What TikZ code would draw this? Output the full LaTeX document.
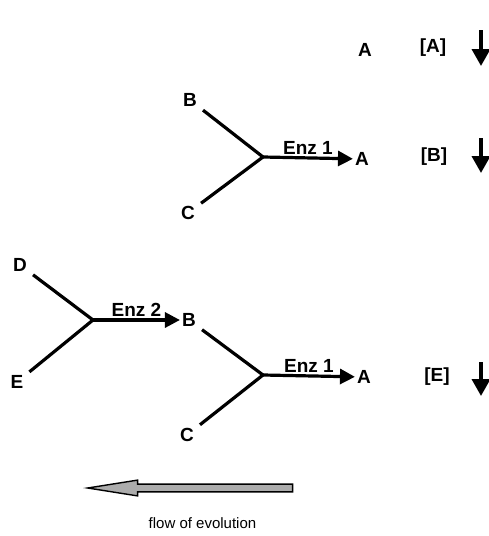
\documentclass[tikz,border=0pt]{standalone}
\usepackage{fontspec}
\setmainfont{Liberation Sans}
\usetikzlibrary{positioning,arrows.meta,shapes.arrows}

\begin{document}
\begin{tikzpicture}[x=1pt, y=-1pt,
    lbl/.style={font=\fontsize{19}{21}\selectfont\bfseries, inner sep=2pt},
    enz/.style={font=\fontsize{19}{21}\selectfont\bfseries, inner sep=1pt},
    arm/.style={line width=3.2pt, shorten <=5pt},
    rxn/.style={line width=3.2pt, -{Triangle[length=15pt,width=15pt]}},
    drop/.style={line width=3.6pt, -{Triangle[length=17pt,width=18pt]}}]
  \useasboundingbox (0,0) rectangle (489,536);
  % top row
  \node[lbl] (a0) at (365,50) {A};
  \node[lbl] (ca) at (433,48) {[A]};
  \coordinate (ca1) at (481,30);
  \coordinate (ca2) at (481,66);
  \draw[drop] (ca1) -- (ca2);
  % one enzyme
  \node[lbl] (b1) at (190,100) {B};
  \node[lbl] (c1) at (188,213) {C};
  \coordinate (j1) at (263,157);
  \node[lbl] (a1) at (362,159) {A};
  \draw[arm] (b1) -- (j1);
  \draw[arm] (c1) -- (j1);
  \draw[rxn] (j1) -- (a1) node[enz, midway, above=1pt] (e1) {Enz 1};
  \node[lbl] (cb) at (434,157) {[B]};
  \coordinate (cb1) at (481,138);
  \coordinate (cb2) at (481,173);
  \draw[drop] (cb1) -- (cb2);
  % two enzymes
  \node[lbl] (d2) at (20,265) {D};
  \node[lbl] (e2) at (17,382) {E};
  \coordinate (j2) at (93,320);
  \node[lbl] (b2) at (189,320) {B};
  \draw[arm] (d2) -- (j2);
  \draw[arm] (e2) -- (j2);
  \draw[rxn] (j2) -- (b2) node[enz, midway, above=1pt] (e12) {Enz 2};
  \node[lbl] (c2) at (187,435) {C};
  \coordinate (j3) at (263,375);
  \node[lbl] (a2) at (364,377) {A};
  \draw[arm] (b2) -- (j3);
  \draw[arm] (c2) -- (j3);
  \draw[rxn] (j3) -- (a2) node[enz, midway, above=1pt] (e22) {Enz 1};
  \node[lbl] (ce) at (437,377) {[E]};
  \coordinate (ce1) at (481,362);
  \coordinate (ce2) at (481,396);
  \draw[drop] (ce1) -- (ce2);
  % evolution
  \node[single arrow, draw, line width=1.4pt, fill=gray!65, shape border rotate=180,
        minimum height=205pt, inner sep=3.2pt, single arrow head extend=4pt,
        single arrow tip angle=18] (evo) at (202.5,488) {};
  \node[font=\fontsize{15}{17}\selectfont, below=35pt of evo.center, anchor=center] (flow) {flow of evolution};
\end{tikzpicture}
\end{document}
